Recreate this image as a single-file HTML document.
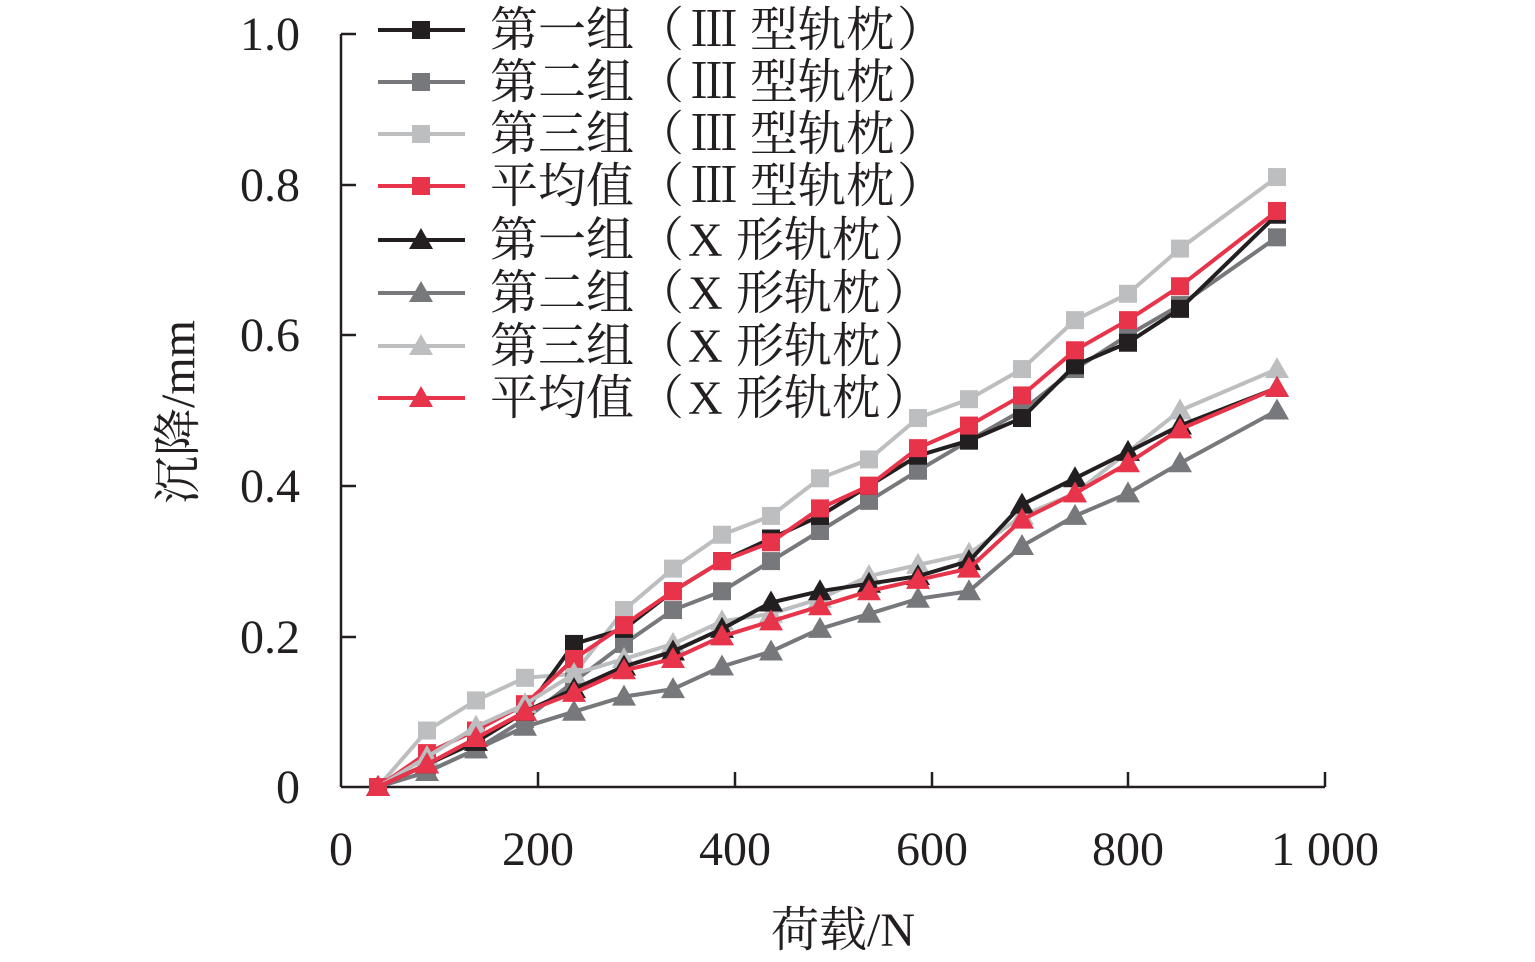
<!DOCTYPE html>
<html><head><meta charset="utf-8"><style>
html,body{margin:0;padding:0;background:#fff;}
svg{display:block;font-family:"Liberation Serif","Noto Serif CJK SC",serif;}
</style></head><body>
<svg id="s" width="1535" height="962" xmlns="http://www.w3.org/2000/svg">
<g stroke="#231f20" stroke-width="2.5" fill="none">
<line x1="341" y1="34" x2="341" y2="787"/>
<line x1="341" y1="787" x2="1325" y2="787"/>
<line x1="341" y1="34" x2="356" y2="34"/>
<line x1="341" y1="185" x2="356" y2="185"/>
<line x1="341" y1="335" x2="356" y2="335"/>
<line x1="341" y1="486" x2="356" y2="486"/>
<line x1="341" y1="637" x2="356" y2="637"/>
<line x1="538" y1="787" x2="538" y2="772"/>
<line x1="735" y1="787" x2="735" y2="772"/>
<line x1="932" y1="787" x2="932" y2="772"/>
<line x1="1128" y1="787" x2="1128" y2="772"/>
<line x1="1325" y1="787" x2="1325" y2="772"/>
</g>
<g font-size="48" fill="#231f20" text-anchor="end">
<text x="300" y="50">1.0</text>
<text x="300" y="201">0.8</text>
<text x="300" y="351">0.6</text>
<text x="300" y="502">0.4</text>
<text x="300" y="653">0.2</text>
<text x="300" y="803">0</text>
</g>
<g font-size="48" fill="#231f20" text-anchor="middle">
<text x="341" y="865">0</text>
<text x="538" y="865">200</text>
<text x="735" y="865">400</text>
<text x="932" y="865">600</text>
<text x="1128" y="865">800</text>
<text x="1325" y="865">1 000</text>
<text x="843" y="946">荷载/N</text>
<text transform="translate(194,412) rotate(-90)">沉降/mm</text>
</g>
<g id="data"></g>
<g id="leg"></g>
</svg>
<script>
var xs=[378,427,476,525,574,624,673,722,771,820,869,918,969,1022,1075,1128,1180,1277];
function Y(v){return 787-v*753;}
var S=[
["#231f20","s",[0,0.03,0.06,0.10,0.19,0.21,0.26,0.30,0.33,0.36,0.40,0.44,0.46,0.49,0.56,0.59,0.635,0.76],"第一组"],
["#77787b","s",[0,0.02,0.05,0.09,0.14,0.19,0.235,0.26,0.30,0.34,0.38,0.42,0.46,0.50,0.555,0.60,0.64,0.73],"第二组"],
["#bcbec0","s",[0,0.075,0.115,0.145,0.15,0.235,0.29,0.335,0.36,0.41,0.435,0.49,0.515,0.555,0.62,0.655,0.715,0.81],"第三组"],
["#e8344a","s",[0,0.045,0.075,0.11,0.17,0.215,0.26,0.30,0.325,0.37,0.40,0.45,0.48,0.52,0.58,0.62,0.665,0.765],"平均值"],
["#231f20","t",[0,0.03,0.06,0.10,0.13,0.16,0.18,0.21,0.245,0.26,0.27,0.28,0.30,0.375,0.41,0.445,0.48,0.53],"第一组"],
["#77787b","t",[0,0.02,0.05,0.08,0.10,0.12,0.13,0.16,0.18,0.21,0.23,0.25,0.26,0.32,0.36,0.39,0.43,0.50],"第二组"],
["#bcbec0","t",[0,0.04,0.08,0.11,0.15,0.17,0.19,0.22,0.23,0.25,0.28,0.295,0.31,0.36,0.39,0.445,0.50,0.555],"第三组"],
["#e8344a","t",[0,0.03,0.065,0.10,0.125,0.155,0.17,0.20,0.22,0.24,0.26,0.275,0.29,0.355,0.39,0.43,0.475,0.53],"平均值"]
];
function mk(t,x,y,c){
 if(t=="s") return '<rect x="'+(x-9)+'" y="'+(y-9)+'" width="18" height="18" fill="'+c+'"/>';
 return '<polygon points="'+x+','+(y-12)+' '+(x-12)+','+(y+9)+' '+(x+12)+','+(y+9)+'" fill="'+c+'"/>';
}
var h='',L='';
var order=[2,1,0,3,6,5,4,7];
order.forEach(function(i){var s=S[i];
 var p=xs.map(function(x,j){return x+','+Y(s[2][j]).toFixed(1)}).join(' ');
 h+='<polyline points="'+p+'" fill="none" stroke="'+s[0]+'" stroke-width="4"/>';
 xs.forEach(function(x,j){h+=mk(s[1],x,Y(s[2][j]),s[0]);});
});
var ly=[30,82,134,186,240,293,346,398];
function T(x,y,t){return '<text x="'+x+'" y="'+y+'" font-size="48" fill="#231f20">'+t+'</text>';}
S.forEach(function(s,i){var y=ly[i],ty=y+16;
 L+='<line x1="378" y1="'+y+'" x2="465" y2="'+y+'" stroke="'+s[0]+'" stroke-width="4"/>';
 L+=mk(s[1],421,y,s[0]);
 L+=T(490,ty,s[3]);
 if(i<4){L+=T(636,ty,'（')+T(690,ty,'Ⅲ')+T(750,ty,'型轨枕')+T(897,ty,'）');}
 else{L+=T(636,ty,'（')+T(688,ty,'X')+T(736,ty,'形轨枕')+T(884,ty,'）');}
});
document.getElementById('data').innerHTML=h;
document.getElementById('leg').innerHTML=L;
</script>
</body></html>
